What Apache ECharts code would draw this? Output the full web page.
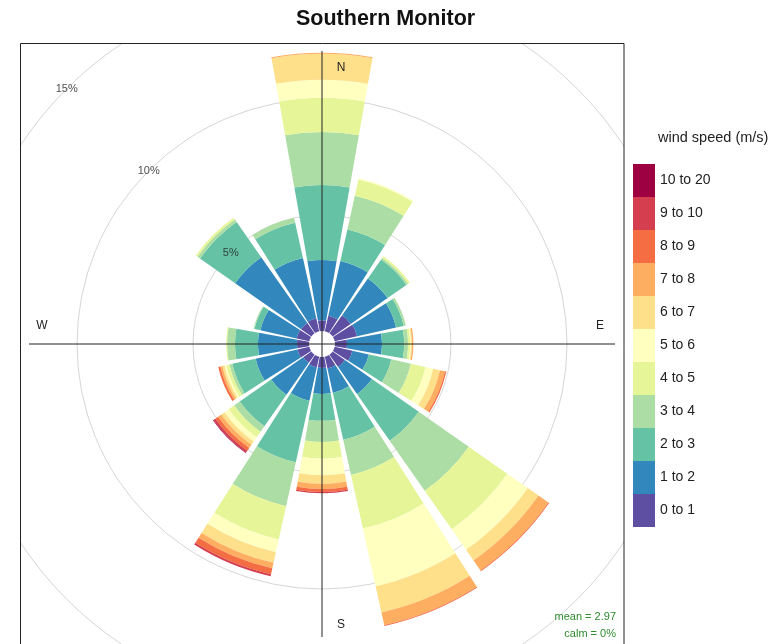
<!DOCTYPE html>
<html><head><meta charset="utf-8">
<script src="https://cdn.jsdelivr.net/npm/echarts@6/dist/echarts.min.js"></script>
<style>html,body{margin:0;padding:0;background:#fff}#c{width:782px;height:644px}</style>
</head><body><div id="c"></div><script>
// ---- data (percent of time, by direction and wind-speed bin) ----
const directions = ['N','NNE','NE','ENE','E','ESE','SE','SSE','S','SSW','SW','WSW','W','WNW','NW','NNW'];
const speedBins = ['0 to 1','1 to 2','2 to 3','3 to 4','4 to 5','5 to 6','6 to 7','7 to 8','8 to 9','9 to 10','10 to 20'];
const binColors = ['#5E4FA2','#3288BD','#66C2A5','#ABDDA4','#E6F598','#FFFFBF','#FEE08B','#FDAE61','#F46D43','#D53E4F','#9E0142'];
const ws0to1   = [0.46,0.69,0.95,0.99,0.52,0.78,0.65,0.52,0.47,0.47,0.43,0.52,0.52,0.56,0.54,0.58];
const ws1to2   = [2.60,2.41,1.94,1.72,1.51,0.73,1.42,1.08,1.12,1.47,1.68,1.85,1.68,1.60,3.47,2.66];
const ws2to3   = [3.23,1.40,0.99,0.34,0.95,0.99,2.46,2.07,1.16,2.72,1.66,1.03,0.99,0.26,1.85,1.55];
const ws3to4   = [2.29,1.49,0.09,0.09,0.17,0.86,2.63,1.55,0.91,1.94,0.29,0.13,0.34,0.04,0.13,0.22];
const ws4to5   = [1.47,0.71,0.09,0,0.09,0.65,2.03,2.37,0.73,1.47,0.29,0.13,0.04,0,0.09,0];
const ws5to6   = [0.78,0.06,0,0,0.04,0.34,1.08,2.54,0.71,0.56,0.22,0.09,0,0,0,0];
const ws6to7   = [1.12,0,0,0,0.04,0.30,0.56,1.16,0.37,0.47,0.17,0.09,0,0,0,0];
const ws7to8   = [0.04,0,0,0,0.06,0.22,0.52,0.56,0.22,0.24,0.17,0.09,0,0,0,0];
const ws8to9   = [0,0,0,0,0,0.06,0.04,0.04,0.13,0.26,0.14,0.09,0,0,0,0];
const ws9to10  = [0,0,0,0,0,0,0,0,0.05,0.09,0.10,0,0,0,0,0];
const ws10to20 = [0,0,0,0,0,0,0,0,0,0,0.03,0,0,0,0,0];
const ringTicks = [5,10,15];
const meanText = 'mean = 2.97';
const calmText = 'calm = 0%';

const binValues = [ws0to1,ws1to2,ws2to3,ws3to4,ws4to5,ws5to6,ws6to7,ws7to8,ws8to9,ws9to10,ws10to20];
const FF = '"Liberation Sans", Arial, sans-serif';
const C = [322,344];

const chart = echarts.init(document.getElementById('c'));
const series = speedBins.map((name,i)=>({
  name, type:'bar', coordinateSystem:'polar', polarIndex:0, stack:'ws',
  data: binValues[i], barCategoryGap:'11%', silent:true,
  itemStyle:{color:binColors[i]}, z:2
}));
series.push({
  type:'scatter', coordinateSystem:'polar', polarIndex:0, symbolSize:1, silent:true,
  itemStyle:{color:'rgba(0,0,0,0)'},
  data: ringTicks.map(v=>[v, 14]),
  label:{show:true, position:'inside', formatter:p=>p.value[0]+'%', color:'#222', fontSize:11, fontFamily:FF},
  z:6
});

chart.setOption({
  animation:false,
  backgroundColor:'#fff',
  title:{text:'Southern Monitor', left:296, top:8, z:100, padding:[0,0,0,0],
    textStyle:{fontSize:21.5, fontWeight:'bold', color:'#111', fontFamily:FF}},
  legend:{orient:'vertical', left:628, top:159, itemWidth:22, itemHeight:33, itemGap:0,
    icon:'rect', selectedMode:false, z:100, data: speedBins.slice().reverse(),
    textStyle:{fontSize:14, color:'#222', fontFamily:FF}},
  polar:[{center:C, radius:[13,361]}, {center:C, radius:[0,293]}],
  angleAxis:[
    {polarIndex:0, type:'category', data:directions, startAngle:101.25, clockwise:true,
     axisLine:{show:false}, axisTick:{show:false}, axisLabel:{show:false}, splitLine:{show:false}},
    {polarIndex:1, type:'value', min:0, max:360, interval:90, startAngle:90, z:10,
     axisLine:{show:false}, axisTick:{show:false}, axisLabel:{show:false},
     splitLine:{show:true, lineStyle:{color:'#222', width:1}}}
  ],
  radiusAxis:[
    {polarIndex:0, type:'value', min:0, max:15, interval:5,
     axisLine:{show:false}, axisTick:{show:false}, axisLabel:{show:false},
     splitLine:{show:true, lineStyle:{color:['#ffffff','#d6d6d6','#d6d6d6','#d6d6d6'], width:1}}},
    {polarIndex:1, type:'value', min:0, max:1, show:false}
  ],
  graphic:[
    {type:'rect', shape:{x:0,y:0,width:782,height:43}, style:{fill:'#fff'}, z:50, silent:true},
    {type:'rect', shape:{x:0,y:0,width:20,height:644}, style:{fill:'#fff'}, z:50, silent:true},
    {type:'rect', shape:{x:624,y:0,width:158,height:644}, style:{fill:'#fff'}, z:50, silent:true},
    {type:'rect', shape:{x:20.5,y:43.5,width:603.5,height:700}, style:{fill:null, stroke:'#222', lineWidth:1}, z:60, silent:true},
    {type:'text', x:341, y:68, style:{text:'N', font:'12px '+FF, fill:'#222', textAlign:'center', textVerticalAlign:'middle'}, z:61},
    {type:'text', x:600, y:326, style:{text:'E', font:'12px '+FF, fill:'#222', textAlign:'center', textVerticalAlign:'middle'}, z:61},
    {type:'text', x:341, y:625, style:{text:'S', font:'12px '+FF, fill:'#222', textAlign:'center', textVerticalAlign:'middle'}, z:61},
    {type:'text', x:42, y:326, style:{text:'W', font:'12px '+FF, fill:'#222', textAlign:'center', textVerticalAlign:'middle'}, z:61},
    {type:'text', x:616, y:617, style:{text:meanText, font:'11px '+FF, fill:'#2E8B2E', textAlign:'right', textVerticalAlign:'middle'}, z:61},
    {type:'text', x:616, y:634, style:{text:calmText, font:'11px '+FF, fill:'#2E8B2E', textAlign:'right', textVerticalAlign:'middle'}, z:61},
    {type:'text', x:658, y:138, style:{text:'wind speed (m/s)', font:'14.5px '+FF, fill:'#222', textAlign:'left', textVerticalAlign:'middle'}, z:101}
  ],
  series
});
</script></body></html>
